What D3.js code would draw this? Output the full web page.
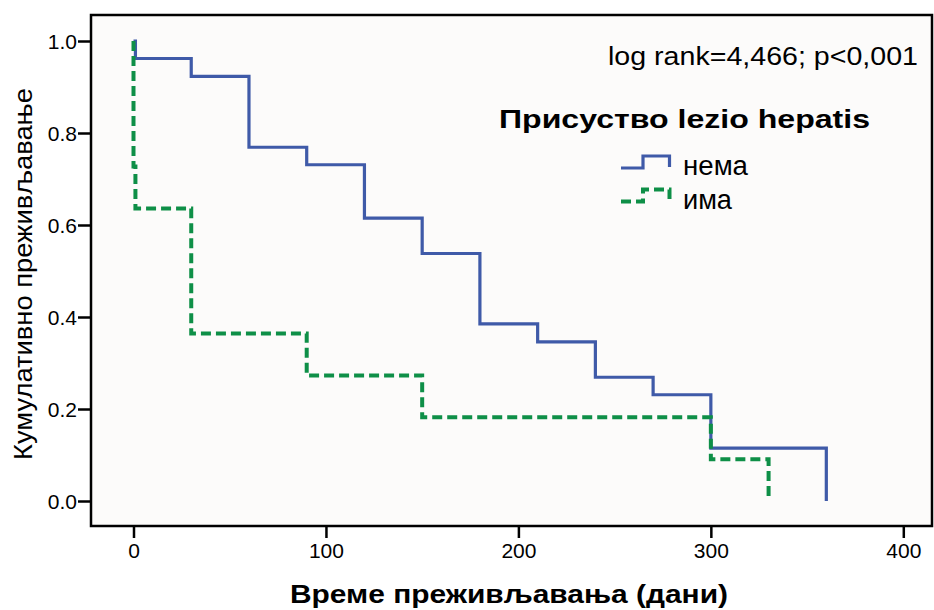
<!DOCTYPE html>
<html>
<head>
<meta charset="utf-8">
<title>Kaplan-Meier</title>
<script src="https://cdn.jsdelivr.net/npm/d3@7/dist/d3.min.js"></script>
<style>
  body { margin: 0; background: #fff; }
  text { font-family: "Liberation Sans", Arial, sans-serif; fill: #000; }
</style>
</head>
<body>
<div id="chart"></div>
<script>
// survival steps, group "нема" (no lesion)
const nemaTimes = [0, 1, 30, 60, 90, 120, 150, 180, 210, 240, 270, 300, 360];
const nemaSurv  = [1.0, 0.962, 0.923, 0.769, 0.731, 0.615, 0.538, 0.385, 0.346, 0.269, 0.231, 0.115, 0.0];
// group "има" (lesion present)
const imaTimes = [0, 0, 1, 30, 90, 150, 300, 330];
const imaSurv  = [1.0, 0.727, 0.636, 0.364, 0.273, 0.182, 0.091, 0.0];

const xTicks = [0, 100, 200, 300, 400];
const yTicks = [0, 0.2, 0.4, 0.6, 0.8, 1.0];
const groups = ["нема", "има"];

const W = 934, H = 610;
const frame = {left: 91, top: 15, right: 932, bottom: 526};

const svg = d3.select("#chart").append("svg")
    .attr("width", W).attr("height", H);

const x = d3.scaleLinear().domain([0, 400]).range([133.5, 903.3]);
const y = d3.scaleLinear().domain([0, 1]).range([501, 41]);

svg.append("rect")
    .attr("x", frame.left).attr("y", frame.top)
    .attr("width", frame.right - frame.left)
    .attr("height", frame.bottom - frame.top)
    .attr("fill", "#fcfbfa").attr("stroke", "none");

// axes
const yAxis = svg.append("g")
    .attr("transform", `translate(${frame.left},0)`)
    .call(d3.axisLeft(y).tickValues(yTicks).tickFormat(d3.format(".1f")).tickSize(13).tickPadding(1));
const xAxis = svg.append("g")
    .attr("transform", `translate(0,${frame.bottom})`)
    .call(d3.axisBottom(x).tickValues(xTicks).tickFormat(d3.format("d")).tickSize(12).tickPadding(5));

[yAxis, xAxis].forEach(g => {
  g.select(".domain").remove();
  g.selectAll(".tick line").attr("stroke", "#000").attr("stroke-width", 2.5);
  g.selectAll(".tick text")
    .style("font-family", "Liberation Sans, Arial, sans-serif")
    .style("font-size", "21px").attr("fill", "#000");
});
yAxis.selectAll(".tick text").attr("dy", "0.36em");

// frame border
svg.append("rect")
    .attr("x", frame.left).attr("y", frame.top)
    .attr("width", frame.right - frame.left)
    .attr("height", frame.bottom - frame.top)
    .attr("fill", "none").attr("stroke", "#000").attr("stroke-width", 2.5);

const line = d3.line()
    .x(d => x(d[0])).y(d => y(d[1]))
    .curve(d3.curveStepAfter);

svg.append("path")
    .datum(d3.zip(nemaTimes, nemaSurv))
    .attr("d", line)
    .attr("fill", "none").attr("stroke", "#3f5aa8").attr("stroke-width", 3.2);

svg.append("path")
    .datum(d3.zip(imaTimes, imaSurv))
    .attr("d", line)
    .attr("fill", "none").attr("stroke", "#0e8f47").attr("stroke-width", 4)
    .attr("stroke-dasharray", "10,5");

// annotation + legend
svg.append("text")
    .attr("x", 608).attr("y", 65)
    .attr("textLength", 310).attr("lengthAdjust", "spacingAndGlyphs")
    .style("font-size", "26px")
    .text("log rank=4,466; p<0,001");

svg.append("text")
    .attr("x", 499).attr("y", 128)
    .attr("textLength", 371).attr("lengthAdjust", "spacingAndGlyphs")
    .style("font-size", "26px").style("font-weight", "bold")
    .text("Присуство lezio hepatis");

const legendY = [168, 201.5];
const legendW = [65, 49];
const legendStyle = [
  {stroke: "#3f5aa8", width: 3.2, dash: null},
  {stroke: "#0e8f47", width: 4, dash: "10,5"}
];
groups.forEach((g, i) => {
  const b = legendY[i];
  svg.append("path")
    .attr("d", `M621,${b}H643V${b - 12}H669.5V${b - 1}`)
    .attr("fill", "none")
    .attr("stroke", legendStyle[i].stroke)
    .attr("stroke-width", legendStyle[i].width)
    .attr("stroke-dasharray", legendStyle[i].dash);
  svg.append("text")
    .attr("x", 683).attr("y", b + 7)
    .attr("textLength", legendW[i]).attr("lengthAdjust", "spacingAndGlyphs")
    .style("font-size", "27px")
    .text(g);
});

// axis titles
svg.append("text")
    .attr("transform", "translate(32,274) rotate(-90)")
    .attr("text-anchor", "middle")
    .attr("textLength", 372).attr("lengthAdjust", "spacingAndGlyphs")
    .style("font-size", "26px")
    .text("Кумулативно преживљавање");

svg.append("text")
    .attr("x", 509).attr("y", 603)
    .attr("text-anchor", "middle")
    .attr("textLength", 438).attr("lengthAdjust", "spacingAndGlyphs")
    .style("font-size", "25px").style("font-weight", "bold")
    .text("Време преживљавања (дани)");
</script>
</body>
</html>
